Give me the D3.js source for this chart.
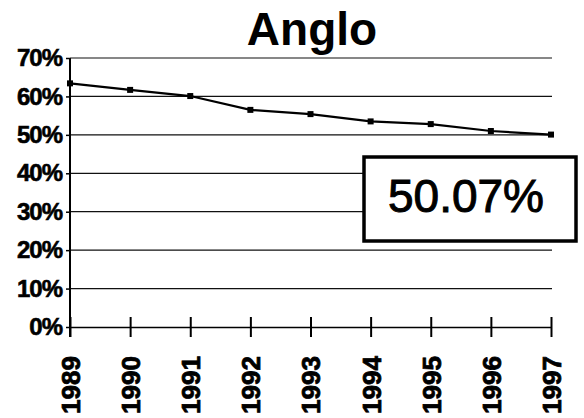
<!DOCTYPE html>
<html>
<head>
<meta charset="utf-8">
<script src="https://cdn.jsdelivr.net/npm/d3@7"></script>
<style>
  body { margin: 0; background: #fff; }
  svg { display: block; }
</style>
</head>
<body>
<div id="chart"></div>
<script>
const years = ["1989", "1990", "1991", "1992", "1993", "1994", "1995", "1996", "1997"];
const share = [0.634, 0.617, 0.601, 0.565, 0.554, 0.535, 0.528, 0.510, 0.5007];
const yTicks = [0, 0.1, 0.2, 0.3, 0.4, 0.5, 0.6, 0.7];
const titleText = "Anglo";
const calloutText = "50.07%";

const W = 584, H = 418;
const svg = d3.select("#chart").append("svg").attr("width", W).attr("height", H);

const x = d3.scalePoint().domain(years).range([70, 551]);
const y = d3.scaleLinear().domain([0, 0.7]).range([327, 58]);

// title
svg.append("text")
  .attr("x", 312).attr("y", 45)
  .attr("text-anchor", "middle")
  .attr("font-family", "Liberation Sans, Arial, sans-serif")
  .attr("font-weight", "bold")
  .attr("font-size", 46)
  .text(titleText);

// gridlines
svg.append("g")
  .selectAll("line")
  .data(yTicks.filter(d => d > 0))
  .enter().append("line")
  .attr("x1", 70).attr("x2", 552)
  .attr("y1", d => y(d)).attr("y2", d => y(d))
  .attr("stroke", "#111").attr("stroke-width", 1.2);

// y axis
const yAxis = d3.axisLeft(y).tickValues(yTicks).tickSize(4)
  .tickFormat(d3.format(".0%"));
const gy = svg.append("g").attr("transform", "translate(70,0)").call(yAxis);
gy.select(".domain").remove();
gy.selectAll(".tick line").attr("stroke", "#000").attr("stroke-width", 1.5);
gy.selectAll(".tick text")
  .attr("x", -8)
  .attr("font-family", "Liberation Sans, Arial, sans-serif")
  .attr("font-weight", "bold")
  .attr("font-size", 24)
  .attr("letter-spacing", -1)
  .attr("stroke", "#000").attr("stroke-width", 0.6)
  .attr("fill", "#000");
svg.append("line")
  .attr("x1", 70).attr("x2", 70).attr("y1", y(0.7)).attr("y2", 337)
  .attr("stroke", "#000").attr("stroke-width", 2);

// x axis
const xAxis = d3.axisBottom(x).tickSizeInner(10).tickSizeOuter(0);
const gx = svg.append("g").attr("transform", `translate(0,${y(0)})`).call(xAxis);
gx.select(".domain").attr("stroke", "#000").attr("stroke-width", 1.5);
gx.selectAll(".tick line").attr("y1", -10).attr("y2", 10)
  .attr("stroke", "#000").attr("stroke-width", 2);
gx.selectAll(".tick text")
  .attr("transform", "rotate(-90)")
  .attr("x", -87).attr("y", 0).attr("dy", "0.36em")
  .attr("text-anchor", "start")
  .attr("font-family", "Liberation Sans, Arial, sans-serif")
  .attr("font-weight", "bold")
  .attr("font-size", 26)
  .attr("stroke", "#000").attr("stroke-width", 0.8)
  .attr("fill", "#000");

// series line
const line = d3.line().x((d, i) => x(years[i])).y(d => y(d));
svg.append("path")
  .datum(share)
  .attr("d", line)
  .attr("fill", "none")
  .attr("stroke", "#000")
  .attr("stroke-width", 2.2);

svg.append("g")
  .selectAll("rect")
  .data(share)
  .enter().append("rect")
  .attr("x", (d, i) => x(years[i]) - 3)
  .attr("y", d => y(d) - 3)
  .attr("width", 6).attr("height", 6)
  .attr("fill", "#000");

// callout box
svg.append("rect")
  .attr("x", 364).attr("y", 157)
  .attr("width", 212).attr("height", 84)
  .attr("fill", "#fff")
  .attr("stroke", "#000").attr("stroke-width", 3.5);
svg.append("text")
  .attr("x", 466).attr("y", 212)
  .attr("text-anchor", "middle")
  .attr("font-family", "Liberation Sans, Arial, sans-serif")
  .attr("font-size", 46)
  .attr("stroke", "#000").attr("stroke-width", 1)
  .attr("fill", "#000")
  .text(calloutText);
</script>
</body>
</html>
